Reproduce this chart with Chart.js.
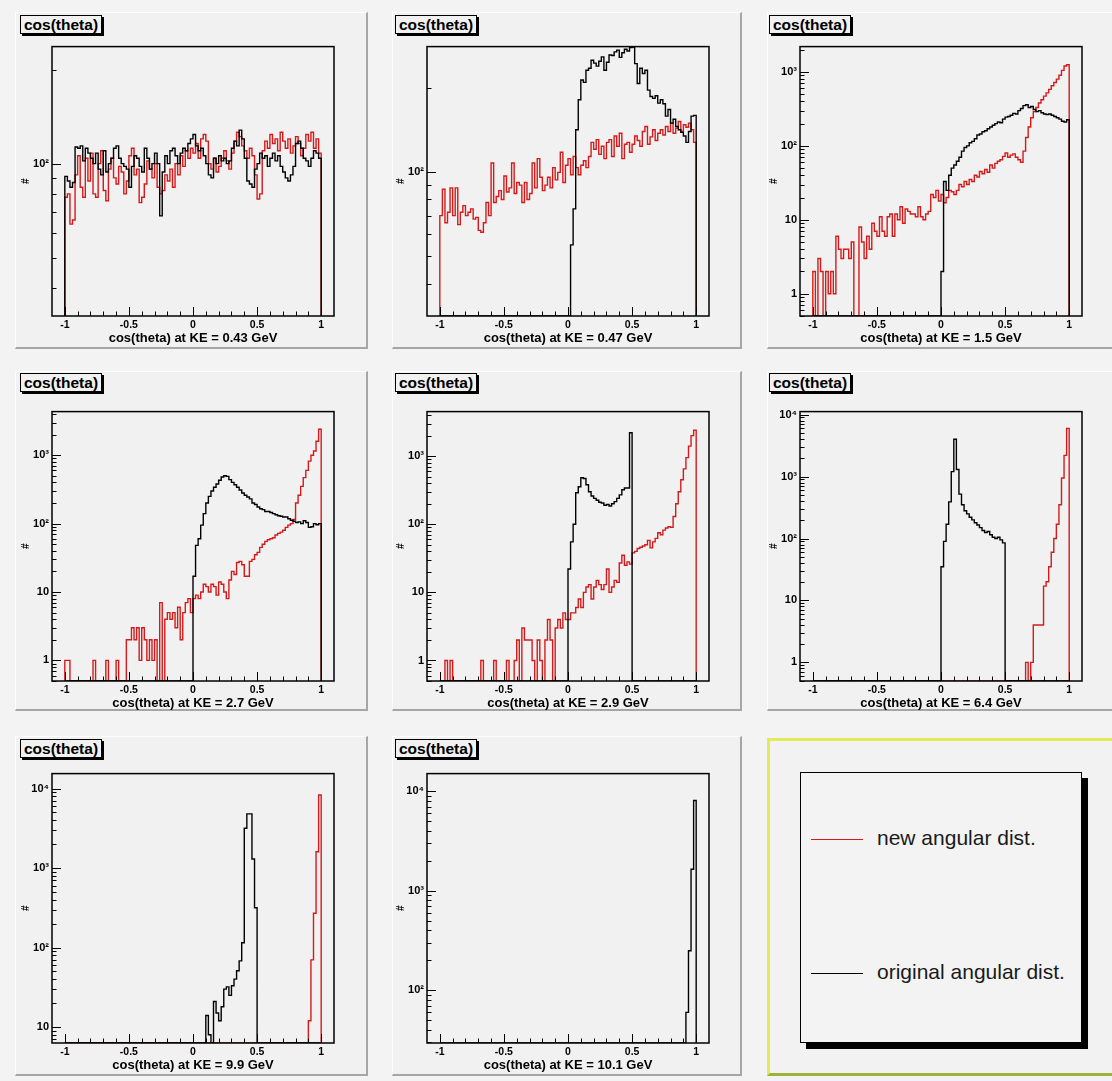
<!DOCTYPE html>
<html><head><meta charset="utf-8">
<script src="https://cdn.jsdelivr.net/npm/chart.js@4.4.0/dist/chart.umd.min.js"></script>
<style>
html,body{margin:0;padding:0;background:#f3f3f3;}
body{width:1112px;height:1081px;position:relative;overflow:hidden;font-family:"Liberation Sans",Arial,Helvetica,sans-serif;}
.pad{position:absolute;box-sizing:border-box;background:#f1f1f1;border-top:1px solid #fdfdfd;border-left:1px solid #fdfdfd;border-right:2px solid #a6a6a6;border-bottom:2px solid #a6a6a6;}
.ttl{position:absolute;box-sizing:border-box;height:19px;border:1px solid #000;box-shadow:2px 2px 0 #000;background:#f1f1f1;font-weight:bold;font-size:15.5px;line-height:17px;padding:0 3px;white-space:nowrap;color:#000;}
canvas.hc{position:absolute;}
#legendPad{position:absolute;left:767px;top:738px;width:360px;height:338px;box-sizing:border-box;background:#f2f2f2;border-left:3px solid #e3ea55;border-top:3px solid #e3ea55;border-bottom:3px solid #9fb23a;}
#legendBox{position:absolute;left:800px;top:772px;width:282px;height:271px;box-sizing:border-box;border:1px solid #000;background:#f3f3f3;box-shadow:6px 6px 0 #000;}
.lgLine{position:absolute;left:10px;width:52px;height:0;border-top:1.5px solid #000;}
.lgText{position:absolute;left:76px;font-size:21px;line-height:24px;color:#1a1a1a;white-space:nowrap;}
</style>
</head><body>
<div id="legendPad"></div>
<div id="legendBox"></div>
<script>
// ---------------- data ----------------
const energies = ['0.43', '0.47', '1.5', '2.7', '2.9', '6.4', '9.9', '10.1'];   // KE in GeV
const seriesNames = ['new angular dist.', 'original angular dist.'];
const binLow = -1, binHigh = 1, binWidth = 0.02;                                   // 100 bins
const xTickLabels = [-1, -0.5, 0, 0.5, 1];
const xMinorTicks = [-1,-0.9,-0.8,-0.7,-0.6,-0.5,-0.4,-0.3,-0.2,-0.1,0,0.1,0.2,0.3,0.4,0.5,0.6,0.7,0.8,0.9,1];
const yAxisMin = [32.5, 30.6, 0.5, 0.5, 0.5, 0.5, 6.3, 29.5];
const yAxisMax = [237, 282, 2200, 4340, 4500, 11200, 15400, 15100];
const yTicks043 = [100];
const yTicks047 = [100];
const yTicks15  = [1, 10, 100, 1000];
const yTicks27  = [1, 10, 100, 1000];
const yTicks29  = [1, 10, 100, 1000];
const yTicks64  = [1, 10, 100, 1000, 10000];
const yTicks99  = [10, 100, 1000, 10000];
const yTicks101 = [100, 1000, 10000];

// KE = 0.43 GeV
const black043 = [
91,88,84,87,113,112,114,102,112,108,
104,100,108,96,92,110,94,100,104,112,
114,104,100,98,96,84,98,106,104,98,
94,112,104,96,100,108,100,68,94,106,
100,110,112,106,100,108,112,110,116,120,
124,114,110,112,106,100,92,90,104,100,
106,102,104,100,102,112,118,114,128,120,
104,88,86,84,96,100,108,104,106,98,
104,108,102,106,98,94,90,88,92,98,
116,118,112,104,102,98,104,110,108,104];
const red043 = [
78,80,64,66,92,106,84,78,104,88,
108,80,78,100,110,82,76,96,104,90,
86,98,94,80,88,106,112,92,96,75,
78,86,102,96,90,100,84,80,82,92,
88,96,84,100,92,106,98,110,104,112,
108,116,104,120,124,118,100,96,104,94,
98,104,110,102,96,108,118,126,122,114,
110,104,112,106,92,77,80,110,118,112,
124,116,120,110,126,118,112,120,108,114,
122,116,106,112,124,118,126,112,120,108];
// KE = 0.47 GeV
const black047 = [
0,0,0,0,0,0,0,0,0,0,
0,0,0,0,0,0,0,0,0,0,
0,0,0,0,0,0,0,0,0,0,
0,0,0,0,0,0,0,0,0,0,
0,0,0,0,0,0,0,0,0,0,
0,55,74,142,182,214,210,232,236,252,
246,240,250,259,232,248,263,262,270,274,
258,268,276,272,280,281,245,208,236,226,
232,197,187,184,188,177,182,176,159,168,
150,155,146,142,139,135,128,140,159,160];
const red047 = [
70,87,66,72,88,70,88,65,72,76,
70,72,74,68,69,62,61,66,78,70,
108,78,82,86,80,97,85,88,108,84,
92,90,78,92,80,84,108,88,112,96,
86,90,96,88,104,94,100,118,92,106,
112,98,114,104,98,106,110,104,114,128,
121,131,116,124,112,128,131,114,135,124,
138,112,126,128,118,126,135,130,124,140,
146,126,134,142,130,138,142,136,146,140,
150,138,144,152,140,148,145,150,142,128];
// KE = 1.5 GeV
const black15 = [
0,0,0,0,0,0,0,0,0,0,
0,0,0,0,0,0,0,0,0,0,
0,0,0,0,0,0,0,0,0,0,
0,0,0,0,0,0,0,0,0,0,
0,0,0,0,0,0,0,0,0,0,
2,33,25,40,50,55,62,70,85,95,
100,110,115,125,140,145,155,160,170,180,
190,200,210,205,230,245,250,260,275,270,
300,320,350,360,330,340,310,290,300,280,
270,265,270,260,250,240,230,215,210,225];
const red15 = [
2,0,3,2,0,2,1,2,1,6,
4,3,4,4,3,5,0,0,8,5,
3,6,4,9,7,6,11,7,6,11,
12,6,12,10,15,9,14,13,12,12,
11,15,11,10,12,13,22,20,25,18,
22,17,20,25,24,22,25,30,28,33,
30,35,33,40,38,45,42,48,44,55,
50,58,62,65,72,80,70,75,78,70,
65,60,85,130,180,240,290,330,380,420,
470,520,580,650,720,800,900,1050,1200,1250];
// KE = 2.7 GeV
const black27 = [
0,0,0,0,0,0,0,0,0,0,
0,0,0,0,0,0,0,0,0,0,
0,0,0,0,0,0,0,0,0,0,
0,0,0,0,0,0,0,0,0,0,
0,0,0,0,0,0,0,0,0,0,
17,48,60,95,140,200,250,300,340,380,
430,480,500,490,440,400,370,340,310,280,
260,245,230,200,190,175,165,160,150,150,
145,140,135,130,128,125,125,118,112,108,
104,106,100,110,104,88,90,100,96,100];
const red27 = [
1,1,0,0,0,0,0,0,0,0,
0,1,0,0,0,0,1,0,0,0,
1,0,0,0,2,2,3,2,3,1,
3,2,1,2,1,2,0,7,0,4,
5,4,5,3,6,2,5,7,8,5,
8,9,8,10,13,12,10,13,12,9,
14,13,10,8,15,20,18,27,28,25,
17,17,28,30,35,38,45,50,55,58,
60,62,68,72,75,80,88,95,100,115,
200,260,350,470,600,820,1000,1150,1600,2400];
// KE = 2.9 GeV
const black29 = [
0,0,0,0,0,0,0,0,0,0,
0,0,0,0,0,0,0,0,0,0,
0,0,0,0,0,0,0,0,0,0,
0,0,0,0,0,0,0,0,0,0,
0,0,0,0,0,0,0,0,0,0,
22,55,100,290,355,480,470,380,300,260,
240,225,210,205,190,195,185,200,215,240,
270,320,340,340,2200,0,0,0,0,0,
0,0,0,0,0,0,0,0,0,0,
0,0,0,0,0,0,0,0,0,0];
const red29 = [
0,0,1,0,1,0,0,0,0,0,
0,0,0,0,0,0,1,0,0,0,
0,1,0,0,0,0,1,0,0,1,
2,0,3,2,2,2,1,0,2,1,
0,2,4,2,0,3,4,3,5,4,
4,5,5,6,8,6,10,12,13,8,
12,15,13,11,13,22,10,12,15,14,
27,35,25,28,26,38,40,44,46,48,
50,58,45,55,62,75,70,82,88,92,
90,130,200,300,450,650,950,1400,2000,2400];
// KE = 6.4 GeV
const black64 = [
0,0,0,0,0,0,0,0,0,0,
0,0,0,0,0,0,0,0,0,0,
0,0,0,0,0,0,0,0,0,0,
0,0,0,0,0,0,0,0,0,0,
0,0,0,0,0,0,0,0,0,0,
35,90,170,390,1200,4000,1300,520,350,280,
250,220,200,180,165,150,135,125,130,115,
105,100,105,95,85,0,0,0,0,0,
0,0,0,0,0,0,0,0,0,0,
0,0,0,0,0,0,0,0,0,0];
const red64 = [
0,0,0,0,0,0,0,0,0,0,
0,0,0,0,0,0,0,0,0,0,
0,0,0,0,0,0,0,0,0,0,
0,0,0,0,0,0,0,0,0,0,
0,0,0,0,0,0,0,0,0,0,
0,0,0,0,0,0,0,0,0,0,
0,0,0,0,0,0,0,0,0,0,
0,0,0,0,0,0,0,0,0,0,
0,0,0,1,0,1,4,4,4,4,
17,20,35,60,100,170,350,950,2200,6000];
// KE = 9.9 GeV
const black99 = [
0,0,0,0,0,0,0,0,0,0,
0,0,0,0,0,0,0,0,0,0,
0,0,0,0,0,0,0,0,0,0,
0,0,0,0,0,0,0,0,0,0,
0,0,0,0,0,0,0,0,0,0,
0,0,0,0,0,14,8,0,21,15,
12,18,30,32,25,33,40,51,68,115,
3160,4800,4800,1300,316,0,0,0,0,0,
0,0,0,0,0,0,0,0,0,0,
0,0,0,0,0,0,0,0,0,0];
const red99 = [
0,0,0,0,0,0,0,0,0,0,
0,0,0,0,0,0,0,0,0,0,
0,0,0,0,0,0,0,0,0,0,
0,0,0,0,0,0,0,0,0,0,
0,0,0,0,0,0,0,0,0,0,
0,0,0,0,0,0,0,0,0,0,
0,0,0,0,0,0,0,0,0,0,
0,0,0,0,0,0,0,0,0,0,
0,0,0,0,0,0,0,0,0,0,
0,0,0,0,0,12,70,270,1600,8300];
// KE = 10.1 GeV (only the original distribution is visible)
const black101 = [
0,0,0,0,0,0,0,0,0,0,
0,0,0,0,0,0,0,0,0,0,
0,0,0,0,0,0,0,0,0,0,
0,0,0,0,0,0,0,0,0,0,
0,0,0,0,0,0,0,0,0,0,
0,0,0,0,0,0,0,0,0,0,
0,0,0,0,0,0,0,0,0,0,
0,0,0,0,0,0,0,0,0,0,
0,0,0,0,0,0,0,0,0,0,
0,0,0,0,0,0,60,250,1650,8100];
const red101 = [];

const blackSeries = [black043, black047, black15, black27, black29, black64, black99, black101];
const redSeries   = [red043, red047, red15, red27, red29, red64, red99, red101];
const yTickSets   = [yTicks043, yTicks047, yTicks15, yTicks27, yTicks29, yTicks64, yTicks99, yTicks101];

// ---------------- layout / style ----------------
const FONT = '"Liberation Sans", Arial, Helvetica, sans-serif';
const RED = '#d41a1a';
const padX = [15, 392, 767], padW = [353, 350, 350];
const padY = [12, 371, 736], padH = [337, 340, 340];
const plotL = [52, 427, 800], plotT = [45, 410, 772];
const plotW = 282, plotH = 271;
const ttlX = [20, 395, 769], ttlY = [15, 373, 739];
const AX_L = 36, PAD_T = 8, PAD_R = 10, AX_B = 31;

const supers = {2: '\u00B2', 3: '\u00B3', 4: '\u2074'};
function yLabel(v) {
  const e = Math.round(Math.log10(v));
  if (e === 0) return '1';
  if (e === 1) return '10';
  return '10' + supers[e];
}
function histPoints(vals, floorVal) {
  const pts = [{x: binLow, y: floorVal}];
  vals.forEach((v, i) => pts.push({x: binLow + i * binWidth, y: v > 0 ? v : floorVal}));
  pts.push({x: binHigh, y: floorVal});
  return pts;
}

const rootAxes = {
  id: 'rootAxes',
  afterDatasetsDraw(chart) {
    const {ctx, chartArea: a, scales: {x, y}} = chart;
    ctx.save();
    ctx.strokeStyle = '#000';
    ctx.lineWidth = 1;
    ctx.beginPath();
    xMinorTicks.forEach(v => {
      const px = Math.round(x.getPixelForValue(v)) + 0.5;
      const major = xTickLabels.some(t => Math.abs(t - v) < 1e-9);
      ctx.moveTo(px, a.bottom);
      ctx.lineTo(px, a.bottom - (major ? 9 : 4.5));
    });
    const lo = Math.floor(Math.log10(y.min)), hi = Math.ceil(Math.log10(y.max));
    for (let d = lo; d <= hi; d++) {
      for (let m = 1; m <= 9; m++) {
        const v = m * Math.pow(10, d);
        if (v < y.min * 0.9999 || v > y.max) continue;
        const py = Math.round(y.getPixelForValue(v)) + 0.5;
        ctx.moveTo(a.left, py);
        ctx.lineTo(a.left + (m === 1 ? 9 : 4.5), py);
      }
    }
    ctx.stroke();
    ctx.lineWidth = 1.5;
    ctx.strokeRect(a.left, a.top, a.right - a.left, a.bottom - a.top);
    ctx.restore();
  }
};

// pads, title boxes, charts
energies.forEach((ke, i) => {
  const col = i % 3, row = Math.floor(i / 3);
  const pad = document.createElement('div');
  pad.className = 'pad';
  Object.assign(pad.style, {left: padX[col] + 'px', top: padY[row] + 'px', width: padW[col] + 'px', height: padH[row] + 'px'});
  document.body.appendChild(pad);

  const t = document.createElement('div');
  t.className = 'ttl';
  t.textContent = 'cos(theta)';
  Object.assign(t.style, {left: ttlX[col] + 'px', top: ttlY[row] + 'px'});
  document.body.appendChild(t);

  const cv = document.createElement('canvas');
  cv.className = 'hc';
  const w = plotW + AX_L + PAD_R, h = plotH + PAD_T + AX_B;
  cv.width = w; cv.height = h;
  Object.assign(cv.style, {left: (plotL[col] - AX_L) + 'px', top: (plotT[row] - PAD_T) + 'px', width: w + 'px', height: h + 'px'});
  document.body.appendChild(cv);

  const yMin = yAxisMin[i], yMax = yAxisMax[i], yt = yTickSets[i];
  const datasets = [];
  if (blackSeries[i].length) datasets.push({label: seriesNames[1], data: histPoints(blackSeries[i], yMin), borderColor: '#000',
      borderWidth: 1.4, pointRadius: 0, stepped: true, fill: false, tension: 0});
  if (redSeries[i].length) datasets.push({label: seriesNames[0], data: histPoints(redSeries[i], yMin), borderColor: RED,
      borderWidth: 1.4, pointRadius: 0, stepped: true, fill: false, tension: 0});

  new Chart(cv, {
    type: 'line',
    data: {datasets},
    plugins: [rootAxes],
    options: {
      responsive: false, animation: false, events: [], devicePixelRatio: 1,
      layout: {padding: {left: 0, top: PAD_T, right: PAD_R, bottom: 0}},
      plugins: {legend: {display: false}, tooltip: {enabled: false}},
      scales: {
        x: {
          type: 'linear', min: -1.1, max: 1.1,
          grid: {display: false, drawTicks: false}, border: {display: false},
          afterBuildTicks: s => { s.ticks = xTickLabels.map(v => ({value: v})); },
          afterFit: s => { s.height = AX_B; },
          ticks: {autoSkip: false, maxRotation: 0, padding: 3, color: '#000',
                  font: {family: FONT, size: 10.5, weight: 'bold'}, callback: v => String(v)},
          title: {display: true, text: 'cos(theta) at KE = ' + ke + ' GeV', color: '#000',
                  font: {family: FONT, size: 13, weight: 'bold'}, padding: {top: 0, bottom: 1}}
        },
        y: {
          type: 'logarithmic', min: yMin, max: yMax,
          grid: {display: false, drawTicks: false}, border: {display: false},
          afterBuildTicks: s => { s.ticks = yt.map(v => ({value: v})); },
          afterFit: s => { s.width = AX_L; },
          ticks: {autoSkip: false, padding: 3, color: '#000',
                  font: {family: FONT, size: 11, weight: 'bold'}, callback: v => yLabel(v)},
          title: {display: true, text: '#', color: '#000',
                  font: {family: FONT, size: 10, weight: 'bold'}, padding: {top: 4, bottom: 0}}
        }
      }
    }
  });
});

// legend panel
const lb = document.getElementById('legendBox');
[[RED, 66], ['#000', 200]].forEach(([c, y], k) => {
  const ln = document.createElement('div');
  ln.className = 'lgLine';
  ln.style.top = y + 'px';
  ln.style.borderTopColor = c;
  lb.appendChild(ln);
  const tx = document.createElement('div');
  tx.className = 'lgText';
  tx.style.top = (y - 13) + 'px';
  tx.textContent = seriesNames[k];
  lb.appendChild(tx);
});
</script>
</body></html>
